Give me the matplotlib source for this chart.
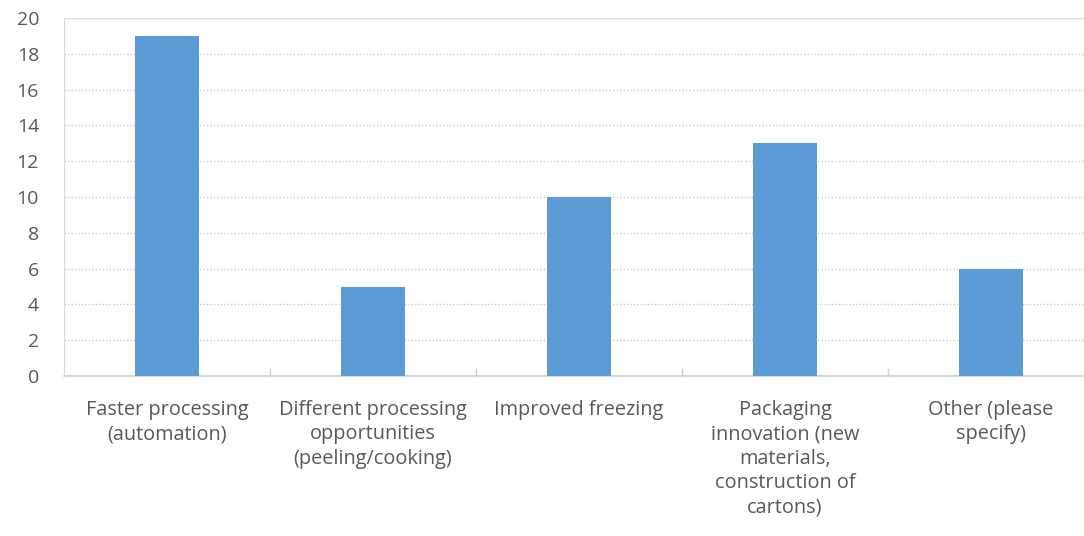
import numpy as np
import matplotlib
matplotlib.use('Agg')
from matplotlib import pyplot as plt
from matplotlib.ticker import FixedLocator, NullFormatter

# Dữ liệu
categories = ['Faster processing\n(automation)',
              'Different processing\nopportunities\n(peeling/cooking)',
              'Improved freezing',
              'Packaging\ninnovation (new\nmaterials,\nconstruction of\ncartons)',
              'Other (please\nspecify)']
values = [19, 5, 10, 13, 6]
yticks = [0, 2, 4, 6, 8, 10, 12, 14, 16, 18, 20]

plt.rcParams['font.family'] = ['Open Sans', 'DejaVu Sans']
text_color = '#595959'

fig = plt.figure(figsize=(10.84, 5.36), dpi=100)
W, H = 1084, 536
ax = fig.add_axes([64 / W, 1 - 376 / H, (1094 - 64) / W, (376 - 18) / H])

x = np.arange(len(values))
ax.bar(x, values, width=0.31, color='#5B9BD5', zorder=3)

ax.set_xlim(-0.5, len(values) - 0.5)
ax.set_ylim(0, 20)
ax.set_yticks(yticks)
ax.set_yticklabels([str(v) for v in yticks])

# Lưới chấm ngang
for v in yticks[1:-1]:
    ax.axhline(v, color='#c8c8c8', linestyle=(0, (1, 1.5)), linewidth=1, zorder=1)
ax.axhline(20, color='#d9d9d9', linewidth=1, zorder=1)

for s in ['top', 'right']:
    ax.spines[s].set_visible(False)
ax.spines['left'].set_color('#d9d9d9')
ax.spines['bottom'].set_color('#d0d0d0')
ax.spines['bottom'].set_linewidth(1.2)

ax.tick_params(axis='y', length=0, pad=18, labelsize=14, labelcolor=text_color)
ax.set_xticks(x)
ax.set_xticklabels(categories, fontsize=14.3, color=text_color, linespacing=1.3, va='top')
ax.tick_params(axis='x', which='major', length=0, pad=17)
ax.xaxis.set_minor_locator(FixedLocator(np.arange(0.5, len(values) - 0.5, 1)))
ax.xaxis.set_minor_formatter(NullFormatter())
ax.tick_params(axis='x', which='minor', length=6, direction='in', color='#d0d0d0', width=1)

fig.savefig('out.png', dpi=100)
